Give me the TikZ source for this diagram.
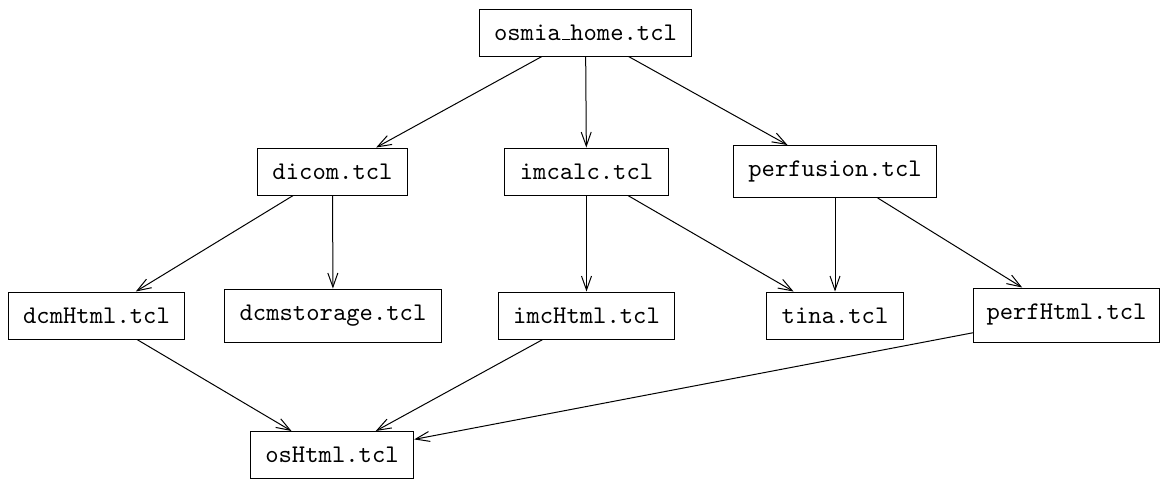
\documentclass[tikz,border=0pt]{standalone}
\usetikzlibrary{arrows.meta}
% Computer Modern typewriter (OT1), freely scalable
\DeclareFontFamily{OT1}{cmttx}{\hyphenchar\font=-1}
\DeclareFontShape{OT1}{cmttx}{m}{n}{<-> cmtt10}{}
\newcommand{\cmttfont}{\fontencoding{OT1}\fontfamily{cmttx}\fontsize{12.7}{15}\selectfont}
\begin{document}
\begin{tikzpicture}[x=0.5pt,y=-0.5pt,
  file/.style={draw, line width=0.5pt, rectangle, inner xsep=7.5pt, inner ysep=0pt,
    minimum height=23.5pt, font=\cmttfont},
  dep/.style={line width=0.5pt, -{Straight Barb[length=7pt,width=5pt]}}]
\useasboundingbox (0,0) rectangle (1161,479);
% modules
\node[file] (home) at (585.5,32.5) {osmia\_home.tcl};
\node[file] (dicom) at (332.5,171.5) {dicom.tcl};
\node[file] (imcalc) at (586.5,171.5) {imcalc.tcl};
\node[file, minimum height=26pt] (perf) at (835,171.5) {perfusion.tcl};
\node[file] (dcmhtml) at (96.5,315.5) {dcmHtml.tcl};
\node[file, minimum height=26.5pt] (dcmstor) at (333,315.5) {dcmstorage.tcl};
\node[file] (imchtml) at (586.5,315.5) {imcHtml.tcl};
\node[file] (tina) at (835,315.5) {tina.tcl};
\node[file, minimum height=27pt, inner xsep=6.3pt] (perfhtml) at (1066.5,315) {perfHtml.tcl};
\node[file] (oshtml) at (332,455) {osHtml.tcl};
% dependencies
\draw[dep] (home) -- (dicom);
\draw[dep] (home) -- (imcalc);
\draw[dep] (home) -- (perf);
\draw[dep] (dicom) -- (dcmhtml);
\draw[dep] (dicom) -- (dcmstor);
\draw[dep] (imcalc) -- (imchtml);
\draw[dep] (imcalc) -- (tina);
\draw[dep] (perf) -- (tina);
\draw[dep] (perf) -- (perfhtml);
\draw[dep] (dcmhtml) -- (oshtml);
\draw[dep] (imchtml) -- (oshtml);
\draw[dep] (perfhtml) -- (oshtml);
\end{tikzpicture}
\end{document}
